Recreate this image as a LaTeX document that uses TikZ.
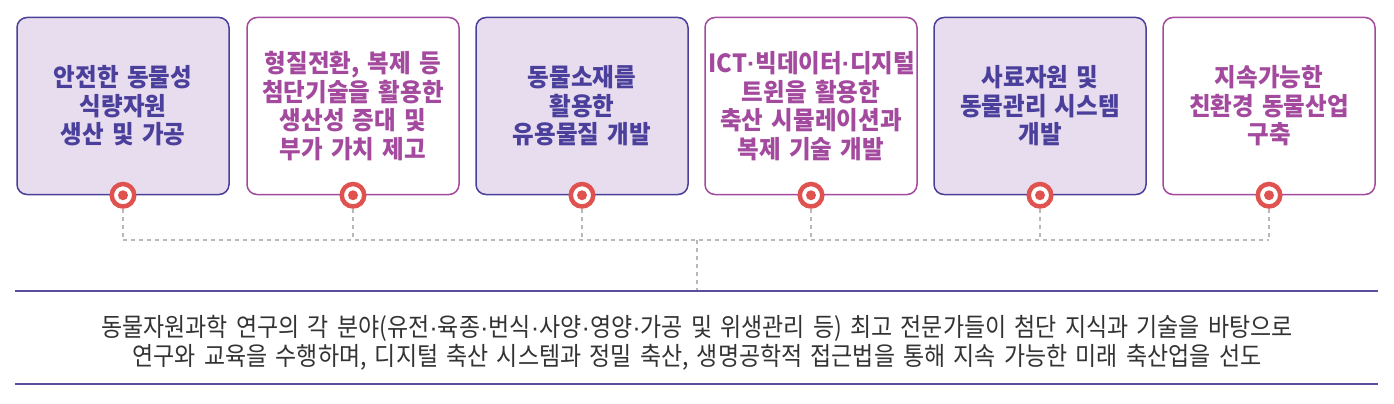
\documentclass[tikz,border=0pt]{standalone}
\usepackage{fontspec}
\newfontfamily\krfont[FakeStretch=0.94]{Noto Sans CJK KR}
\newfontfamily\krtext[FakeStretch=0.9, WordSpace=1.6]{Noto Sans CJK KR}
\newfontfamily\dotfont{Liberation Sans}
\newcommand\md{{\dotfont ·}}
\definecolor{boxblue}{HTML}{4B3F9C}
\definecolor{boxfill}{HTML}{E8DDEE}
\definecolor{boxpink}{HTML}{A44A9E}
\definecolor{tred}{HTML}{E0524F}
\definecolor{dashgray}{HTML}{B8B8B8}
\definecolor{ruleblue}{HTML}{5A4E9E}
\definecolor{bodygray}{HTML}{333333}
\begin{document}
\begin{tikzpicture}[x=1pt,y=-1pt,
  fullbox/.style={draw=boxblue, fill=boxfill, text=boxblue, line width=1.5pt,
    rounded corners=10pt, minimum width=212pt, minimum height=177pt,
    align=center, text width=205pt,
    font=\krfont\bfseries\fontsize{25}{28.5}\selectfont},
  openbox/.style={fullbox, draw=boxpink, fill=white, text=boxpink},
  target/.style={circle, draw=tred, line width=4.5pt, fill=white,
    minimum size=22.5pt, inner sep=0pt,
    path picture={\fill[tred] (path picture bounding box.center) circle (5pt);}},
  dashline/.style={draw=dashgray, line width=1.5pt, dash pattern=on 4pt off 4pt},
  rule/.style={draw=ruleblue, line width=1.5pt}]
\useasboundingbox (0,0) rectangle (1394,404);

\draw (123,106) node[fullbox] (food) {안전한 동물성\\식량자원\\생산 및 가공};
\draw (353,106) node[openbox] (clone) {형질전환, 복제 등\\첨단기술을 활용한\\생산성 증대 및\\부가 가치 제고};
\draw (582,106) node[fullbox] (material) {동물소재를\\활용한\\유용물질 개발};
\draw (811,106) node[openbox] (digital) {ICT\md 빅데이터\md 디지털\\트윈을 활용한\\축산 시뮬레이션과\\복제 기술 개발};
\draw (1040,106) node[fullbox] (feed) {사료자원 및\\동물관리 시스템\\개발};
\draw (1269,106) node[openbox] (eco) {지속가능한\\친환경 동물산업\\구축};

\draw (food.south) node[target] (t1) {};
\draw (clone.south) node[target] (t2) {};
\draw (material.south) node[target] (t3) {};
\draw (digital.south) node[target] (t4) {};
\draw (feed.south) node[target] (t5) {};
\draw (eco.south) node[target] (t6) {};

\coordinate (hub) at (697,240);
\coordinate (ruleL) at (15,291);
\coordinate (ruleR) at (1378,291);
\coordinate (baseL) at (15,384);
\coordinate (baseR) at (1378,384);

% dotted links down to the bar
\foreach \t in {t1,t2,t3,t4,t5,t6}
  \draw[dashline] (\t.south) -- (\t.south |- hub);
\draw[dashline] (t1.south |- hub) -- (t6.south |- hub);
\draw[dashline] (hub) -- (hub |- ruleL);

\draw[rule] (ruleL) -- (ruleR);
\draw[rule] (baseL) -- (baseR);
\draw (697,343) node[align=center, text=bodygray,
  font=\krtext\fontsize{25.5}{29.5}\selectfont] (summary)
  {동물자원과학 연구의 각 분야(유전\md 육종\md 번식\md 사양\md 영양\md 가공 및 위생관리 등) 최고 전문가들이 첨단 지식과 기술을 바탕으로\\연구와 교육을 수행하며, 디지털 축산 시스템과 정밀 축산, 생명공학적 접근법을 통해 지속 가능한 미래 축산업을 선도};
\end{tikzpicture}
\end{document}
